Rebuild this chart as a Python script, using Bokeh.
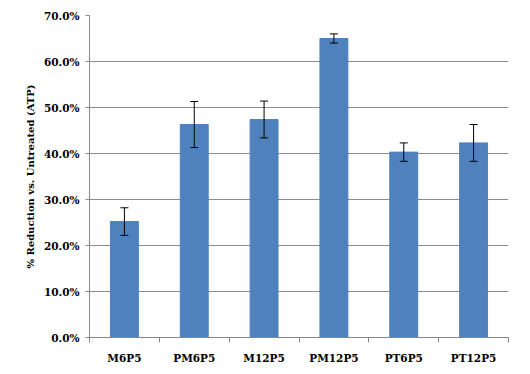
from bokeh.plotting import figure
from bokeh.models import ColumnDataSource, FixedTicker, PrintfTickFormatter, Range1d, Whisker, TeeHead
from bokeh.embed import file_html
from bokeh.resources import INLINE

categories = ["M6P5", "PM6P5", "M12P5", "PM12P5", "PT6P5", "PT12P5"]
values = [25.2, 46.3, 47.4, 65.0, 40.3, 42.3]
errors = [3.0, 5.0, 4.0, 1.0, 2.0, 4.0]
y_ticks = [0, 10, 20, 30, 40, 50, 60, 70]

xs = [i + 0.5 for i in range(len(categories))]
src = ColumnDataSource(dict(
    x=xs, top=values,
    upper=[v + e for v, e in zip(values, errors)],
    lower=[v - e for v, e in zip(values, errors)],
))

p = figure(width=518, height=366, output_backend="svg", toolbar_location=None,
           x_range=Range1d(0, len(categories)), y_range=Range1d(0, 70),
           min_border_left=89, min_border_right=10, min_border_top=15, min_border_bottom=25)
p.outline_line_color = None
p.background_fill_color = "white"

p.vbar(x="x", top="top", width=0.4, bottom=0, source=src, color="#4F81BD", line_color="#4F81BD")
w = Whisker(base="x", upper="upper", lower="lower", source=src, line_color="black", line_width=1,
            level="overlay",
            upper_head=TeeHead(size=8, line_color="black", line_width=1),
            lower_head=TeeHead(size=8, line_color="black", line_width=1))
p.add_layout(w)

font = "DejaVu Serif"
p.xaxis.ticker = FixedTicker(ticks=xs, minor_ticks=list(range(len(categories) + 1)))
p.xaxis.major_label_overrides = {x: c for x, c in zip(xs, categories)}
p.xaxis.major_tick_line_color = None
p.xaxis.major_tick_out = 0
p.xaxis.major_tick_in = 0
p.xaxis.minor_tick_in = 0
p.xaxis.minor_tick_out = 5
p.xaxis.minor_tick_line_color = "#878787"
p.xaxis.axis_line_color = "#878787"
p.xaxis.major_label_standoff = 9

p.yaxis.ticker = FixedTicker(ticks=y_ticks, minor_ticks=[])
p.yaxis.formatter = PrintfTickFormatter(format="%.1f%%")
p.yaxis.major_tick_in = 0
p.yaxis.major_tick_out = 4
p.yaxis.major_tick_line_color = "#878787"
p.yaxis.axis_line_color = "#878787"
p.yaxis.major_label_standoff = 6
p.yaxis.axis_label = "% Reduction vs. Untreated (ATP)"
p.yaxis.axis_label_standoff = 5

for ax in (p.xaxis, p.yaxis):
    ax.major_label_text_font = font
    ax.major_label_text_font_style = "bold"
    ax.major_label_text_font_size = "10.5px"
    ax.major_label_text_color = "black"
    ax.axis_label_text_font = font
    ax.axis_label_text_font_style = "bold"
    ax.axis_label_text_font_size = "10px"
    ax.axis_label_text_color = "black"

p.xgrid.grid_line_color = None
p.ygrid.ticker = FixedTicker(ticks=y_ticks)
p.ygrid.grid_line_color = "#8c8c8c"
p.ygrid.grid_line_width = 1

open("out.html", "w").write(file_html(p, INLINE))
